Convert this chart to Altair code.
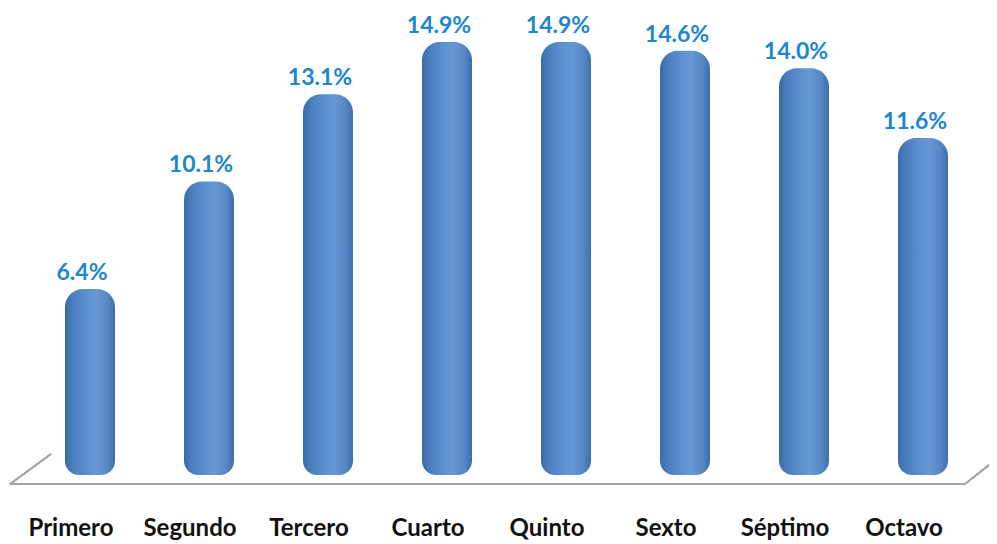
import altair as alt
import pandas as pd

categories = ["Primero", "Segundo", "Tercero", "Cuarto", "Quinto", "Sexto", "Séptimo", "Octavo"]
values = [6.4, 10.1, 13.1, 14.9, 14.9, 14.6, 14.0, 11.6]
labels = ["6.4%", "10.1%", "13.1%", "14.9%", "14.9%", "14.6%", "14.0%", "11.6%"]

df = pd.DataFrame({"cat": categories, "val": values, "lab": labels})

FONT = "Lato"
x = alt.X("cat:N", sort=categories, axis=None,
          scale=alt.Scale(range=[22.5, 974.5], paddingInner=0, paddingOuter=0))
y = alt.Y("val:Q", axis=None, scale=alt.Scale(domain=[0, 16], range=[467, 2]))

grad = alt.Gradient(
    gradient="linear", x1=0, x2=1, y1=0, y2=0,
    stops=[alt.GradientStop(color="#3A6AA6", offset=0),
           alt.GradientStop(color="#4A7DBD", offset=0.15),
           alt.GradientStop(color="#5B8ECD", offset=0.4),
           alt.GradientStop(color="#6598D4", offset=0.62),
           alt.GradientStop(color="#5687C6", offset=0.85),
           alt.GradientStop(color="#3E6EAB", offset=1)])

bars = alt.Chart(df).mark_bar(
    size=50, color=grad, cornerRadiusTopLeft=18, cornerRadiusTopRight=18,
    cornerRadiusBottomLeft=14, cornerRadiusBottomRight=14
).encode(x=x, y=y, y2=alt.datum(0))

vlabels = alt.Chart(df).mark_text(
    font=FONT, fontWeight="bold", fontSize=23, color="#1C86CF",
    baseline="alphabetic", dy=-9, dx=-8
).encode(x=x, y=y, text="lab:N")

clabels = alt.Chart(df).mark_text(
    font=FONT, fontWeight="bold", fontSize=24, color="#111111",
    baseline="alphabetic", dx=-19
).encode(x=x, y=alt.value(528), text="cat:N")

floor_front = alt.Chart(df).mark_rule(color="#A6A6A6", strokeWidth=1.5).encode(
    x=alt.value(2), x2=alt.value(957), y=alt.value(476), y2=alt.value(476))
floor_left = alt.Chart(df).mark_rule(color="#A6A6A6", strokeWidth=1.5).encode(
    x=alt.value(2), x2=alt.value(43), y=alt.value(476), y2=alt.value(446))
floor_right = alt.Chart(df).mark_rule(color="#A6A6A6", strokeWidth=1.5).encode(
    x=alt.value(957), x2=alt.value(995), y=alt.value(476), y2=alt.value(446))

chart = alt.layer(floor_front, floor_left, floor_right, bars, vlabels, clabels).properties(
    width=981, height=536, padding=0, autosize=alt.AutoSizeParams(type="none")
).configure_view(stroke=None)

chart.save("out.html", embed_options={"renderer": "svg", "actions": False})
